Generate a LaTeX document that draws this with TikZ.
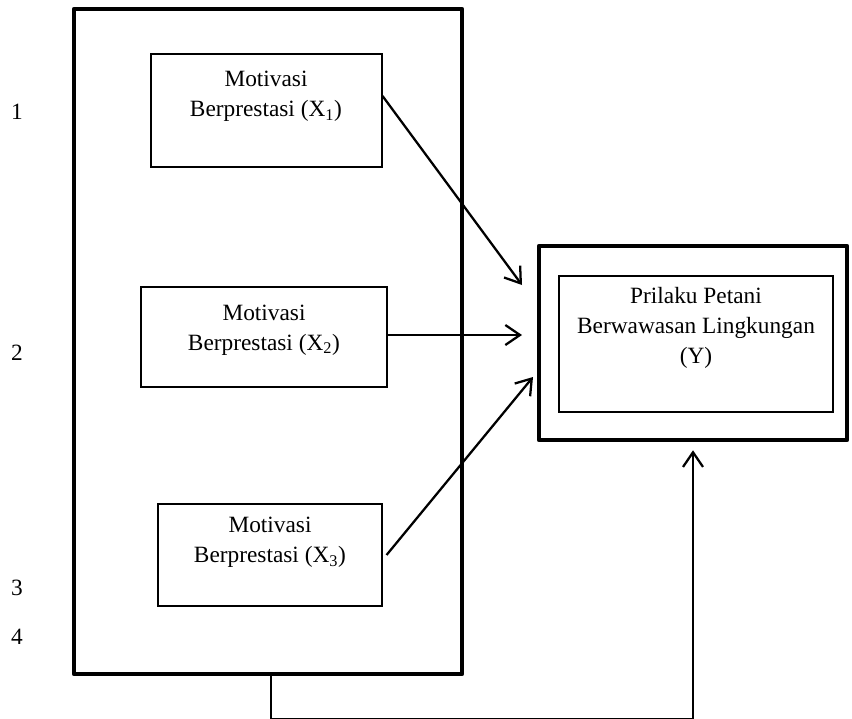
\documentclass[tikz,border=0pt]{standalone}
\usepackage{fontspec}
\setmainfont{Liberation Serif}
\usetikzlibrary{arrows.meta}
\tikzset{
  thickbox/.style={draw, line width=3.4pt, line join=round},
  thinbox/.style={draw, line width=0.8pt},
  boxtext/.style={align=center, font=\fontsize{17.5}{22.5}\selectfont},
  flow/.style={line width=1.7pt, -{Straight Barb[length=11pt,width=15pt,line width=1.7pt]}},
}
\begin{document}
\begin{tikzpicture}[x=0.75pt,y=-0.75pt]
\useasboundingbox (0,0) rectangle (852,718);
% row numbers
\path (17,112) node[boxtext] (n1) {1};
\path (17,353) node[boxtext] (n2) {2};
\path (17,588) node[boxtext] (n3) {3};
\path (17,637) node[boxtext] (n4) {4};
% group of X variables
\path (268,341.5) node[thickbox, minimum width=291pt, minimum height=498.75pt] (grp) {};
\path (266.5,110.5) node[thinbox, minimum width=173.25pt, minimum height=84.75pt] (x1) {};
\path (266,96.5) node[boxtext] (t1) {Motivasi\\Berprestasi (X\textsubscript{1})};
\path (264,337) node[thinbox, minimum width=184.5pt, minimum height=75pt] (x2) {};
\path (264,330) node[boxtext] (t2) {Motivasi\\Berprestasi (X\textsubscript{2})};
\path (270,555) node[thinbox, minimum width=168pt, minimum height=76.5pt] (x3) {};
\path (270,542.5) node[boxtext] (t3) {Motivasi\\Berprestasi (X\textsubscript{3})};
% Y variable
\path (693,343) node[thickbox, minimum width=231pt, minimum height=145.5pt] (yo) {};
\path (696,344) node[thinbox, minimum width=205.5pt, minimum height=102pt] (yi) {};
\path (696,328) node[boxtext] (ty) {Prilaku Petani\\Berwawasan Lingkungan\\(Y)};
% arrow ends
\coordinate (in1) at (522,285);
\coordinate (in2) at (522,335);
\coordinate (in3) at (533,377);
\draw[flow] ([yshift=10.9pt]x1.east) -- (in1);
\draw[flow] ([yshift=1.5pt]x2.east) -- (in2);
\draw[flow] ([xshift=3pt]x3.east) -- (in3);
\draw[flow, shorten >=6pt] ([xshift=2.25pt]grp.south) -- ++(0,43) -| (yo.south);
\end{tikzpicture}
\end{document}
